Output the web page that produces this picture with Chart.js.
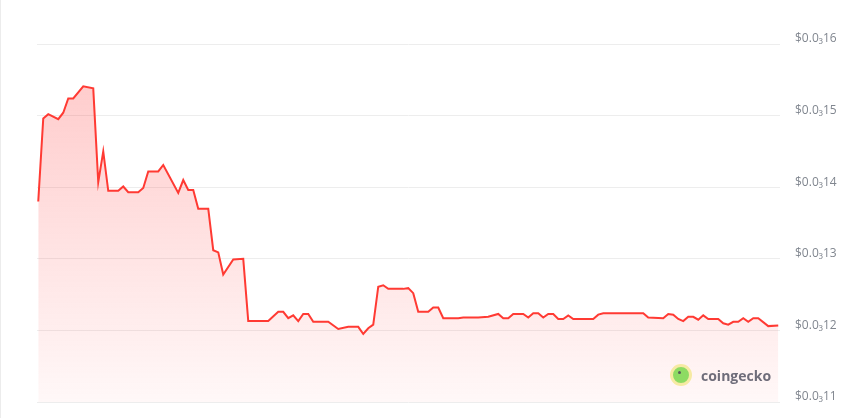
<!DOCTYPE html>
<html><head><meta charset="utf-8">
<script src="https://cdn.jsdelivr.net/npm/chart.js@4.4.1/dist/chart.umd.min.js"></script>
<style>
html,body{margin:0;padding:0;background:#fff;}
#wrap{position:relative;width:864px;height:418px;border-left:1px solid #ececec;box-sizing:border-box;}
canvas{display:block;}
#brand{position:absolute;left:669px;top:364px;display:flex;align-items:center;font-family:"Open Sans","DejaVu Sans",sans-serif;font-weight:700;font-size:14px;color:#6f6d7a;}
#logo{width:16px;height:16px;border-radius:50%;background:#8ddb63;border:3px solid #f6eaa3;margin-right:9px;position:relative;}
#logo:after{content:"";position:absolute;left:5px;top:4px;width:3px;height:3px;border-radius:50%;background:#5a5a5a;}
</style></head>
<body>
<div id="wrap">
<canvas id="c" width="863" height="418"></canvas>
<div id="brand"><span id="logo"></span>coingecko</div>
</div>
<script>
// time step index (equal steps) of each vertex
const steps = [0,1,2,4,5,6,7,9,11,12,13,14,16,17,18,20,21,22,24,25,28,29,30,31,32,34,35,36,37,39,41,42,46,48,49,50,51,52,53,54,55,58,60,62,64,65,66,67,68,69,70,73,74,75,76,78,79,80,81,84,85,88,90,92,93,94,95,97,98,99,100,101,102,103,104,105,106,107,111,112,113,116,117,121,122,125,126,127,128,129,130,131,132,133,134,136,137,138,139,140,141,142,143,144,146,148];
// price in units of 0.00001 USD
const prices = [13.80,14.96,15.02,14.95,15.04,15.24,15.24,15.41,15.38,14.07,14.50,13.95,13.95,14.01,13.93,13.93,13.99,14.22,14.22,14.31,13.92,14.10,13.96,13.96,13.70,13.70,13.12,13.09,12.78,12.99,13.00,12.13,12.13,12.26,12.26,12.17,12.21,12.13,12.23,12.23,12.12,12.12,12.02,12.05,12.05,11.95,12.03,12.08,12.61,12.63,12.58,12.58,12.59,12.52,12.26,12.26,12.32,12.32,12.17,12.17,12.18,12.18,12.19,12.23,12.17,12.17,12.23,12.23,12.18,12.24,12.24,12.18,12.23,12.23,12.16,12.16,12.21,12.16,12.16,12.22,12.24,12.24,12.24,12.24,12.18,12.17,12.23,12.22,12.16,12.13,12.19,12.19,12.15,12.21,12.16,12.16,12.10,12.08,12.12,12.12,12.17,12.12,12.17,12.17,12.06,12.07];
const tickValues = [11,12,13,14,15,16];
const tickLabels = ["$0.0₃11","$0.0₃12","$0.0₃13","$0.0₃14","$0.0₃15","$0.0₃16"];

const pts = steps.map((s,i)=>({x:s,y:prices[i]}));
const ctx = document.getElementById('c').getContext('2d');
new Chart(ctx,{
  type:'line',
  data:{datasets:[{
    data:pts,
    borderColor:'#ff3a33',
    borderWidth:2,
    pointRadius:0,
    tension:0,
    fill:'start',
    backgroundColor:(c)=>{
      const a=c.chart.chartArea; if(!a) return 'rgba(255,60,60,0.2)';
      const g=c.chart.ctx.createLinearGradient(0,a.top,0,a.bottom);
      g.addColorStop(0,'rgba(255,70,70,0.30)');
      g.addColorStop(1,'rgba(255,70,70,0.04)');
      return g;
    }
  }]},
  options:{
    responsive:false,animation:false,
    layout:{padding:{left:36,top:44,bottom:16,right:0}},
    plugins:{legend:{display:false},tooltip:{enabled:false}},
    scales:{
      x:{type:'linear',min:-0.25,max:148.35,display:false},
      y:{position:'right',min:11,max:16,
        afterFit:(s)=>{s.width=84;s.paddingTop=0;s.paddingBottom=0;},
        afterBuildTicks:(s)=>{s.ticks=tickValues.map(v=>({value:v}));},
        border:{display:false},
        grid:{color:'#ededed',lineWidth:1,drawTicks:false},
        ticks:{padding:15,labelOffset:-5,color:'#80868f',font:{family:'"Open Sans","DejaVu Sans",sans-serif',size:12},
          callback:(v)=>tickLabels[tickValues.indexOf(v)]}
      }
    }
  }
});
</script>
</body></html>
